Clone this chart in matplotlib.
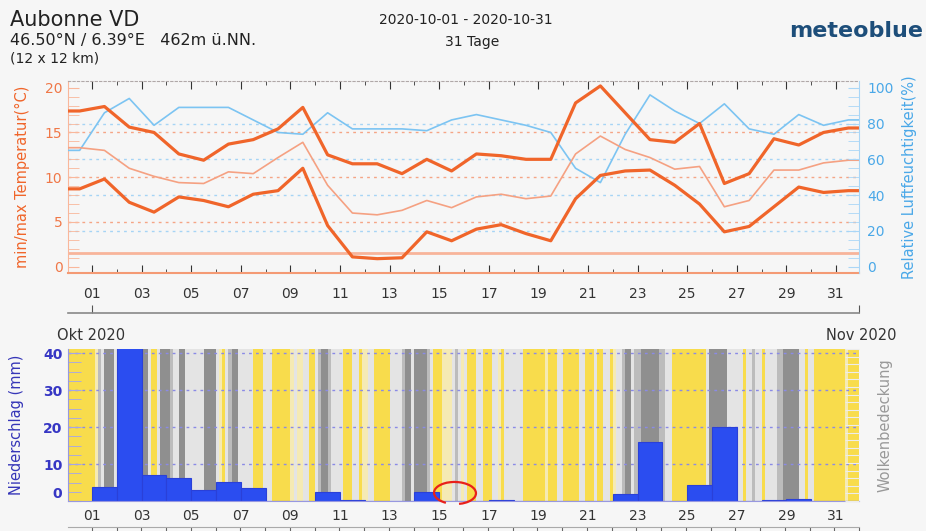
import numpy as np
import matplotlib.pyplot as plt
from matplotlib.patches import Arc

# ---- data -------------------------------------------------------------
tick_days = np.arange(1, 32, 2)
tick_labels = [f"{d:02d}" for d in tick_days]

# daily min/max/mean temperature (°C) and relative humidity (%)
t_max = [17.4, 17.9, 15.6, 15.0, 12.6, 11.9, 13.7, 14.2, 15.4, 17.8, 12.5, 11.5,
         11.5, 10.4, 12.0, 10.7, 12.6, 12.4, 12.0, 12.0, 18.3, 20.2, 17.2, 14.2,
         13.9, 16.0, 9.3, 10.4, 14.3, 13.6, 15.0, 15.5]
t_min = [8.7, 9.8, 7.2, 6.1, 7.8, 7.4, 6.7, 8.1, 8.5, 11.0, 4.6, 1.1,
         0.9, 1.0, 3.9, 2.9, 4.2, 4.7, 3.7, 2.9, 7.6, 10.2, 10.7, 10.8,
         9.1, 7.0, 3.9, 4.5, 6.7, 8.9, 8.3, 8.5]
t_mean = [13.3, 13.0, 11.0, 10.1, 9.4, 9.3, 10.6, 10.4, 12.2, 13.9, 9.1, 6.0,
          5.8, 6.3, 7.4, 6.6, 7.8, 8.1, 7.6, 7.9, 12.6, 14.6, 13.1, 12.2,
          10.9, 11.2, 6.7, 7.4, 10.8, 10.8, 11.6, 11.9]
humidity = [65, 86, 94, 79, 89, 89, 89, 82, 75, 74, 86, 77,
            77, 77, 76, 82, 85, 82, 79, 75, 55, 47, 74, 96,
            87, 80, 91, 77, 74, 85, 79, 82]
frost_line = 1.5

# daily precipitation (mm), days 1..31
precip_days = np.arange(1, 32)
precip = [3.9, 45.0, 7.0, 6.1, 3.0, 5.1, 3.4, 0, 0, 2.4, 0.2, 0, 0.1, 2.4, 0,
          0, 0.3, 0, 0, 0, 0, 1.9, 16.0, 0, 4.3, 20.1, 0, 0.2, 0.5, 0, 0]

# cloud cover, 3-hourly (Y clear, P few, L partly, M mostly, D overcast)
cloud = ["YYYYYYYY", "YPMLDDDL", "LLLLLLLD", "DDLYYLDD", "DMLLDDLL", "LLLLDDDD",
         "LPYLMDDL", "LLLLYYYL", "LLYYYYYY", "PLPPLLYY", "LMDDMLLL", "LYYYLLYP",
         "PLLYYYYY", "LLLLMDDL", "DDDDMLYY", "YPPPLMLP", "LYYYLLYY", "YLLPYLLL",
         "LLLYYYYY", "YYPYYYLL", "YYYYYLLY", "YYLYYLLY", "PLLMDDLM", "MDDDDDDM",
         "MLLYYYYY", "YYYYYYLD", "DDDDDLLL", "LLYLLMLL", "YLLLLMMD", "DDDDLLYL",
         "LYYYYYYY", "YYYPYYYY"]
cloud_colors = {"Y": "#f8dc4c", "P": "#f5eab4", "L": "#e4e4e4",
                "M": "#bcbcbc", "D": "#8f8f8f"}

# ---- layout -----------------------------------------------------------
W, H = 926, 531
BG = "#f6f6f6"
XL = (0.03, 31.93)
ORANGE = "#f0652a"


def fx(x):
    return x / W


def fy(y):
    return 1 - y / H


fig = plt.figure(figsize=(W / 100, H / 100), dpi=100, facecolor=BG)

# header
fig.text(fx(10), fy(20), "Aubonne VD", fontsize=15, color="#222", va="center")
fig.text(fx(10), fy(41), "46.50°N / 6.39°E   462m ü.NN.", fontsize=11.5,
         color="#222", va="center")
fig.text(fx(10), fy(59), "(12 x 12 km)", fontsize=10, color="#222", va="center")
fig.text(fx(466), fy(20), "2020-10-01 - 2020-10-31", fontsize=10, color="#222",
         ha="center", va="center")
fig.text(fx(472), fy(42), "31 Tage", fontsize=10, color="#222", ha="center",
         va="center")
fig.text(fx(923), fy(31), "meteoblue", fontsize=16, color="#1d4e7a",
         fontweight="semibold", va="center", ha="right")

# ---- top panel: temperature / humidity --------------------------------
ax = fig.add_axes([fx(68), fy(273), fx(859) - fx(68), (273 - 81) / H])
ax.set_facecolor(BG)
ax.set_xlim(*XL)
ax.set_ylim(-0.7, 20.75)

xs = np.arange(len(t_max)) + 0.5
xe = np.r_[XL[0], xs, XL[1]]


def ext(v):
    return np.r_[v[0], v, v[-1]]


for g in [5, 10, 15]:
    ax.axhline(g, color="#f5a586", lw=1, ls=(0, (2, 3)), zorder=1)
for g in [20, 40, 60, 80]:
    ax.axhline(g / 5, color="#a6d4f5", lw=1, ls=(0, (2, 3)), zorder=1)
ax.axhline(frost_line, color="#f8b49a", lw=2, zorder=2)

ax.plot(xe, ext(humidity) / 5, color="#7cc4f2", lw=1.2, zorder=3)
ax.plot(xe, ext(t_mean), color="#f5a182", lw=1.2, zorder=3)
ax.plot(xe, ext(t_max), color=ORANGE, lw=2.3, zorder=4)
ax.plot(xe, ext(t_min), color=ORANGE, lw=2.3, zorder=4)

ax.set_xticks(tick_days)
ax.set_xticklabels(tick_labels)
ax.set_xticks(np.arange(2, 32, 2), minor=True)
ax.tick_params(axis="x", which="major", direction="in", top=True, length=6,
               color="#333", labelsize=10, labelcolor="#333", pad=10)
ax.tick_params(axis="x", which="minor", direction="in", top=True, length=3,
               color="#333")
ax.set_yticks([0, 5, 10, 15, 20])
ax.set_yticks(np.arange(0, 21, 1), minor=True)
ax.tick_params(axis="y", which="both", direction="in", length=8,
               color="#f9b79b", labelsize=10, labelcolor="#f07848", pad=4)
ax.set_ylabel("min/max Temperatur(°C)", color=ORANGE, fontsize=10.5,
              labelpad=11)

ax.spines["left"].set_color("#f9b79b")
ax.spines["bottom"].set_color("#f49a74")
ax.spines["bottom"].set_linewidth(1.5)
ax.spines["top"].set_color("#b0a8a8")
ax.spines["top"].set_linestyle((0, (2, 2)))
ax.spines["right"].set_visible(False)

axh = ax.twinx()
axh.set_ylim(-0.7 * 5, 20.75 * 5)
axh.set_yticks([0, 20, 40, 60, 80, 100])
axh.set_yticks(np.arange(0, 101, 5), minor=True)
axh.tick_params(axis="y", which="both", direction="in", length=8,
                color="#aad6f6", labelsize=10, labelcolor="#4aa8e8", pad=6)
axh.set_ylabel("Relative Luftfeuchtigkeit(%)", color="#4aa8e8", fontsize=10.5,
               labelpad=6)
for s in ["left", "top", "bottom"]:
    axh.spines[s].set_visible(False)
axh.spines["right"].set_color("#aad6f6")

# separator line with month ticks
sep = fig.add_axes([fx(68), fy(313), fx(859) - fx(68), 0.0001])
sep.set_xlim(*XL)
sep.set_facecolor("none")
for s in ["left", "right", "top"]:
    sep.spines[s].set_visible(False)
sep.spines["bottom"].set_color("#888")
sep.spines["bottom"].set_linewidth(1.2)
sep.set_yticks([])
sep.set_xticks([1, XL[1]])
sep.set_xticklabels([])
sep.tick_params(axis="x", direction="in", length=6, color="#555")

fig.text(fx(57), fy(335), "Okt 2020", fontsize=10.5, color="#333", va="center")
fig.text(fx(897), fy(335), "Nov 2020", fontsize=10.5, color="#333",
         va="center", ha="right")

# ---- bottom panel: precipitation / cloud cover -------------------------
axp = fig.add_axes([fx(68), fy(501), fx(859) - fx(68), (501 - 349) / H])
axp.set_facecolor(BG)
axp.set_xlim(*XL)
axp.set_ylim(0, 41.1)

for k, day in enumerate(cloud):
    for j, c in enumerate(day):
        axp.axvspan(k + j / 8, k + (j + 1) / 8, color=cloud_colors[c], lw=0,
                    zorder=0)

for g in [10, 20, 30, 40]:
    axp.axhline(g, color="#8a8ae6", lw=1, ls=(0, (2, 3)), zorder=1)

axp.bar(precip_days, precip, width=1, align="edge", color="#2b4df0",
        edgecolor="#2a40d8", lw=0.8, zorder=2)

axp.set_xticks(tick_days)
axp.set_xticklabels(tick_labels)
axp.tick_params(axis="x", length=0, labelsize=10, labelcolor="#333", pad=6)
axp.set_yticks([0, 10, 20, 30, 40])
axp.set_yticks(np.arange(0, 41, 2.5), minor=True)
axp.tick_params(axis="y", which="both", direction="in", length=9,
                color="#a4a4ea", labelsize=10, labelcolor="#3636c4", pad=4)
for lab in axp.get_yticklabels():
    lab.set_fontweight("bold")
axp.get_yticklabels()[0].set_va("bottom")
axp.set_ylabel("Niederschlag (mm)", color="#3636b8", fontsize=10.5, labelpad=14)
axp.spines["left"].set_color("#9898e0")
axp.spines["bottom"].set_color("#9898e0")
axp.spines["top"].set_visible(False)
axp.spines["right"].set_visible(False)

axc = axp.twinx()
axc.set_ylim(0, 100)
axc.set_yticks(np.arange(0, 101, 5))
axc.set_yticklabels([])
axc.tick_params(axis="y", direction="in", length=10, color="#ececec")
axc.set_ylabel("Wolkenbedeckung", color="#999", fontsize=10.5, labelpad=10)
for s in axc.spines.values():
    s.set_visible(False)

# partial next panel at the bottom edge
axn = fig.add_axes([fx(68), fy(527) - 0.3, fx(859) - fx(68), 0.3])
axn.set_facecolor(BG)
axn.set_xlim(*XL)
axn.set_xticks(np.arange(1, 33))
axn.set_xticklabels([])
axn.set_yticks([])
axn.tick_params(axis="x", direction="in", top=True, bottom=False, length=5,
                color="#666")
for s in ["left", "right", "bottom"]:
    axn.spines[s].set_visible(False)
axn.spines["top"].set_color("#aaa")

# red hand-drawn mark
fig.add_artist(Arc((fx(455), fy(493)), fx(42), 22 / H, angle=-8,
                   theta1=-70, theta2=250, color="#e8201a", lw=1.6,
                   transform=fig.transFigure))

fig.savefig("out.png", dpi=100, facecolor=BG)
